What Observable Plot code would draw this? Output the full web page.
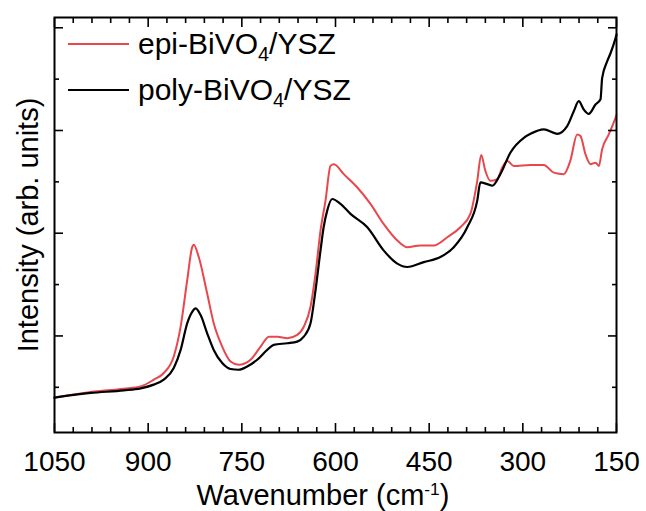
<!DOCTYPE html>
<html>
<head>
<meta charset="utf-8">
<script src="https://cdn.jsdelivr.net/npm/d3@7"></script>
<script src="https://cdn.jsdelivr.net/npm/@observablehq/plot@0.6"></script>
<style>
  html, body { margin: 0; padding: 0; background: #fff; }
  #wrap { position: relative; width: 646px; height: 511px; font-family: "Liberation Sans", Arial, sans-serif; color: #000; }
  #wrap svg { position: absolute; left: 0; top: 0; }
  .leg { position: absolute; left: 68px; display: flex; align-items: center; font-size: 30px; line-height: 32px; white-space: nowrap; }
  .sw { display: inline-block; width: 61px; height: 0; border-top: 2px solid; margin-right: 9px; }
  .leg sub { font-size: 0.66em; vertical-align: -0.35em; line-height: 0; }
  #xlabel { position: absolute; left: 0; width: 646px; top: 483px; text-align: center; font-size: 29px; line-height: 24px; }
  #xlabel sup { font-size: 0.6em; vertical-align: 0.6em; line-height: 0; }
</style>
</head>
<body>
<div id="wrap">
  <div id="chart"></div>
  <div class="leg" style="top:28px"><span class="sw" style="border-color:#e8474c"></span><span>epi-BiVO<sub>4</sub>/YSZ</span></div>
  <div class="leg" style="top:74px"><span class="sw" style="border-color:#000"></span><span>poly-BiVO<sub>4</sub>/YSZ</span></div>
  <div id="xlabel">Wavenumber (cm<sup>-1</sup>)</div>
</div>
<script>
// poly-BiVO4/YSZ (black)
const polyWavenumber = [1050, 992, 939, 912, 891, 875, 859, 848, 837.5, 829.5, 824, 816, 805.5, 795, 781.4, 768, 755, 741.4, 725.4, 709.4, 699, 677.3, 661.3, 650.8, 640, 632, 624, 619, 613.3, 605.3, 592, 576, 549, 523, 501, 485, 458.6, 432, 410.6, 389, 373, 368, 357, 349, 336, 320, 298.4, 287.7, 266.4, 245, 229, 218.4, 210.4, 202.4, 194.4, 183.6, 175.6, 173, 165, 159.6, 151.6, 150];
const polyIntensity  = [0.40, 0.445, 0.47, 0.49, 0.526, 0.574, 0.687, 0.864, 1.123, 1.235, 1.268, 1.203, 1.026, 0.864, 0.736, 0.678, 0.671, 0.703, 0.768, 0.864, 0.913, 0.929, 0.945, 0.993, 1.123, 1.445, 1.833, 2.058, 2.22, 2.333, 2.285, 2.188, 2.058, 1.833, 1.704, 1.671, 1.719, 1.768, 1.864, 2.058, 2.317, 2.494, 2.478, 2.462, 2.575, 2.784, 2.929, 2.968, 3.011, 2.968, 3.043, 3.188, 3.285, 3.204, 3.162, 3.253, 3.304, 3.51, 3.672, 3.752, 3.897, 3.933];

// epi-BiVO4/YSZ (red)
const epiWavenumber = [1050, 992, 939, 912, 891, 875, 859, 848, 837.5, 829.5, 827, 819, 805.5, 795, 781.4, 768, 755, 736, 720, 706.6, 693, 677.3, 661.3, 650.8, 640, 632, 624, 616, 608, 602.7, 586.7, 565, 544, 523, 501, 485, 464, 442.6, 421, 400, 384, 373, 366.7, 360, 352, 341, 333, 325, 314.5, 287.7, 266.4, 250.4, 234.4, 224, 213, 207.7, 199.7, 191.6, 183.6, 178.3, 173, 162.4, 151.6, 150];
const epiIntensity  = [0.40, 0.455, 0.487, 0.509, 0.574, 0.639, 0.80, 1.09, 1.542, 1.864, 1.888, 1.768, 1.413, 1.123, 0.896, 0.751, 0.719, 0.768, 0.896, 0.993, 0.993, 0.978, 1.01, 1.09, 1.284, 1.607, 2.026, 2.317, 2.655, 2.672, 2.575, 2.445, 2.285, 2.091, 1.929, 1.864, 1.881, 1.881, 1.961, 2.058, 2.188, 2.51, 2.762, 2.607, 2.51, 2.527, 2.639, 2.704, 2.655, 2.665, 2.665, 2.59, 2.575, 2.704, 2.962, 2.946, 2.769, 2.672, 2.687, 2.655, 2.817, 2.962, 3.123, 3.15];

const xMajorTicks = [1050, 900, 750, 600, 450, 300, 150];
const xTickLabels = ["1050", "900", "750", "600", "450", "300", "150"];
const xMinorTicks = d3.range(1050, 149, -30).filter(v => !xMajorTicks.includes(v));
const yMajorTicks = [1, 2, 3, 4];
const yMinorTicks = [0.5, 1.5, 2.5, 3.5];

const epiColor = "#e8474c";
const polyColor = "#000000";

const epi = epiWavenumber.map((w, i) => ({w, v: epiIntensity[i]}));
const poly = polyWavenumber.map((w, i) => ({w, v: polyIntensity[i]}));

const font = "Liberation Sans, Arial, sans-serif";
const tickStyle = {strokeWidth: 1.6, label: null, text: null};

const chart = Plot.plot({
  width: 646,
  height: 511,
  marginLeft: 54,
  marginRight: 30,
  marginTop: 17,
  marginBottom: 79,
  style: {fontFamily: font, background: "transparent", color: "#000"},
  x: {domain: [1050, 150]},
  y: {domain: [0.06, 4.1]},
  marks: [
    Plot.line(epi, {x: "w", y: "v", stroke: epiColor, strokeWidth: 2, curve: "monotone-x"}),
    Plot.line(poly, {x: "w", y: "v", stroke: polyColor, strokeWidth: 2.2, curve: "monotone-x"}),
    Plot.axisX(xMajorTicks, {anchor: "bottom", tickSize: -9, ...tickStyle}),
    Plot.axisX(xMinorTicks, {anchor: "bottom", tickSize: -5, ...tickStyle}),
    Plot.axisX(xMajorTicks, {anchor: "top", tickSize: -9, ...tickStyle}),
    Plot.axisX(xMinorTicks, {anchor: "top", tickSize: -5, ...tickStyle}),
    Plot.axisY(yMajorTicks, {anchor: "left", tickSize: -9, ...tickStyle}),
    Plot.axisY(yMinorTicks, {anchor: "left", tickSize: -5, ...tickStyle}),
    Plot.axisY(yMajorTicks, {anchor: "right", tickSize: -9, ...tickStyle}),
    Plot.axisY(yMinorTicks, {anchor: "right", tickSize: -5, ...tickStyle}),
    Plot.axisX(xMajorTicks, {anchor: "bottom", tickSize: 0, tickPadding: 19, fontSize: 28, label: null,
      tickFormat: d => xTickLabels[xMajorTicks.indexOf(d)]}),
    Plot.text(["Intensity (arb. units)"], {frameAnchor: "left", textAnchor: "middle", rotate: -90, dx: -26, fontSize: 29, text: d => d, fill: "#000"}),
    Plot.frame({stroke: "#000", strokeWidth: 2})
  ]
});
document.getElementById("chart").appendChild(chart);
</script>
</body>
</html>
